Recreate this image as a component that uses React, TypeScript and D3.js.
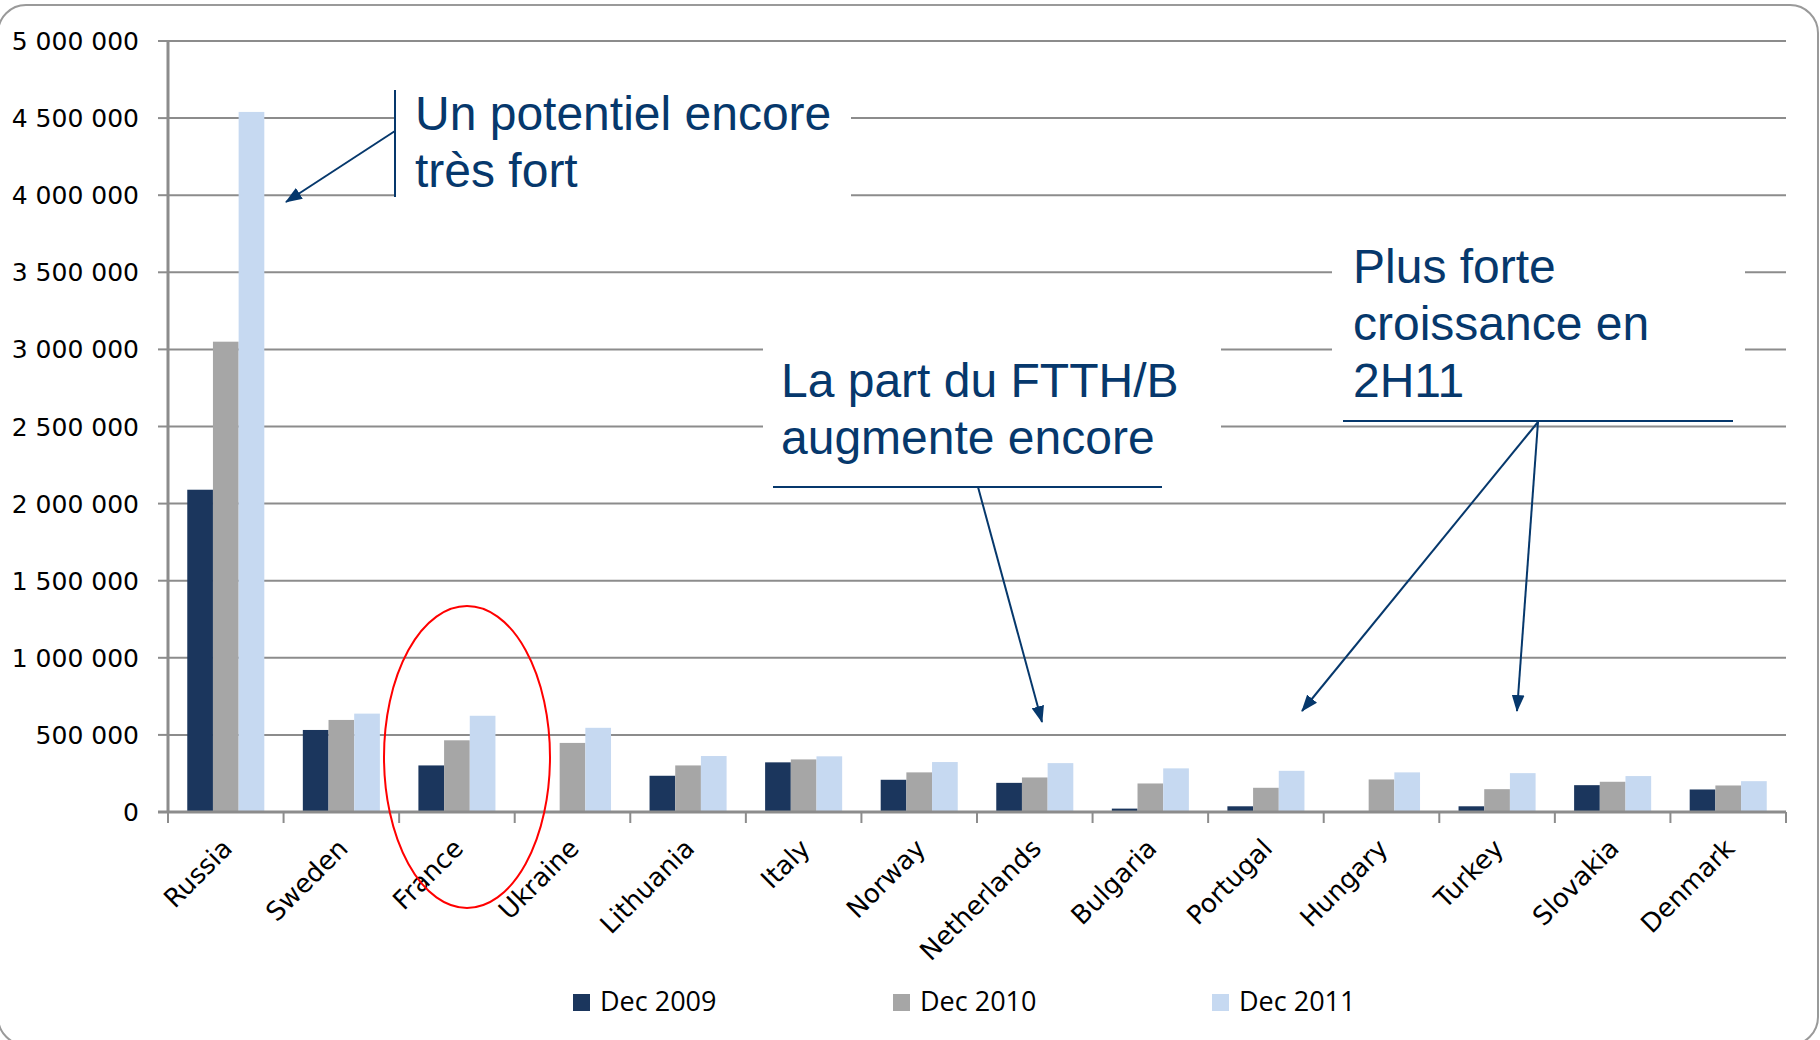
import React from "react";
import * as d3 from "d3";

const countries = ["Russia", "Sweden", "France", "Ukraine", "Lithuania", "Italy", "Norway", "Netherlands", "Bulgaria", "Portugal", "Hungary", "Turkey", "Slovakia", "Denmark"];
const dec2009 = [2090000, 532000, 302000, 0, 235000, 322000, 209000, 189000, 22000, 37000, 0, 37000, 174000, 146000];
const dec2010 = [3050000, 597000, 465000, 448000, 302000, 341000, 257000, 224000, 185000, 157000, 211000, 148000, 196000, 172000];
const dec2011 = [4540000, 638000, 624000, 546000, 363000, 361000, 324000, 317000, 283000, 267000, 257000, 252000, 233000, 200000];
const seriesNames = ["Dec 2009", "Dec 2010", "Dec 2011"];
const seriesColors = ["#1b365d", "#a6a6a6", "#c6d9f1"];
const yTicks = [0, 500000, 1000000, 1500000, 2000000, 2500000, 3000000, 3500000, 4000000, 4500000, 5000000];

const note1 = ["Un potentiel encore", "très fort"];
const note2 = ["La part du FTTH/B", "augmente encore"];
const note3 = ["Plus forte", "croissance en", "2H11"];

const W = 1820;
const H = 1040;
const L = 168;
const R = 1786;
const Y0 = 812;
const Y1 = 41;
const NAVY = "#06386c";
const GRID = "#8c8c8c";

const fmt = d3.formatLocale({ thousands: " ", grouping: [3], decimal: ",", currency: ["", ""] }).format(",");

export default function App() {
  const x = d3.scaleBand<string>().domain(countries).range([L, R]).padding(0);
  const inner = d3.scaleBand<string>().domain(seriesNames).range([0, x.bandwidth()]).paddingInner(0).paddingOuter(0.75);
  const y = d3.scaleLinear().domain([0, 5000000]).range([Y0, Y1]);
  const series = [dec2009, dec2010, dec2011];
  const tickXs = countries.map((c) => x(c) as number).concat([R]);

  const arrowLine = (x1: number, y1: number, x2: number, y2: number, key: string) => (
    <line key={key} x1={x1} y1={y1} x2={x2} y2={y2} stroke={NAVY} strokeWidth={2} markerEnd="url(#ah)" />
  );

  const noteFont = { fontFamily: "'Liberation Sans', Arial, sans-serif", fontSize: 48, fill: NAVY };

  return (
    <svg width={W} height={H} style={{ position: "absolute", left: 0, top: 0, background: "#fff" }}>
      <defs>
        <marker id="ah" viewBox="0 0 16 12" refX="15" refY="6" markerWidth="17" markerHeight="13" markerUnits="userSpaceOnUse" orient="auto">
          <path d="M0,0 L16,6 L0,12 z" fill={NAVY} />
        </marker>
      </defs>
      <rect x={0} y={0} width={W} height={H} fill="#fff" />
      <rect x={-2} y={5} width={1820} height={1040} rx={28} ry={28} fill="none" stroke="#9a9a9a" strokeWidth={2} />

      {/* gridlines */}
      {yTicks.filter((t) => t > 0).map((t) => (
        <line key={"g" + t} x1={L} x2={R} y1={y(t)} y2={y(t)} stroke={GRID} strokeWidth={2} />
      ))}

      {/* bars */}
      {countries.map((c, i) => (
        <g key={c}>
          {series.map((s, j) => (
            <rect key={j} x={(x(c) as number) + (inner(seriesNames[j]) as number)} y={y(s[i])} width={inner.bandwidth()} height={Y0 - y(s[i])} fill={seriesColors[j]} />
          ))}
        </g>
      ))}

      {/* annotation boxes */}
      <rect x={395} y={85} width={456} height={120} fill="#fff" />
      <rect x={763} y={335} width={458} height={145} fill="#fff" />
      <rect x={1332} y={235} width={413} height={185} fill="#fff" />

      {/* y axis */}
      <line x1={L} x2={L} y1={Y1} y2={Y0} stroke={GRID} strokeWidth={3} />
      {yTicks.map((t) => (
        <g key={"yt" + t}>
          <line x1={L - 10} x2={L} y1={y(t)} y2={y(t)} stroke={GRID} strokeWidth={2} />
          <text x={139} y={y(t)} dy="0.36em" textAnchor="end" fontFamily="'DejaVu Sans', sans-serif" fontSize={25} fill="#000">
            {fmt(t)}
          </text>
        </g>
      ))}

      {/* x axis */}
      <line x1={L - 10} x2={R} y1={Y0} y2={Y0} stroke={GRID} strokeWidth={3} />
      {tickXs.map((tx, i) => (
        <line key={"xt" + i} x1={tx} x2={tx} y1={Y0} y2={Y0 + 11} stroke={GRID} strokeWidth={2} />
      ))}
      {countries.map((c) => {
        const cx = (x(c) as number) + x.bandwidth() / 2 + 8;
        const cy = Y0 + 38;
        return (
          <text key={"xl" + c} x={cx} y={cy} textAnchor="end" transform={`rotate(-45 ${cx} ${cy})`} fontFamily="'DejaVu Sans', sans-serif" fontSize={26} fill="#000">
            {c}
          </text>
        );
      })}

      {/* note 1 */}
      <line x1={395} x2={395} y1={90} y2={197} stroke={NAVY} strokeWidth={2} />
      {arrowLine(395, 131, 286, 202, "a1")}
      {note1.map((t, i) => (
        <text key={"n1" + i} x={415} y={130 + i * 57} {...noteFont}>{t}</text>
      ))}

      {/* note 2 */}
      <line x1={773} x2={1162} y1={487} y2={487} stroke={NAVY} strokeWidth={2} />
      {arrowLine(978, 487, 1042, 722, "a2")}
      {note2.map((t, i) => (
        <text key={"n2" + i} x={781} y={397 + i * 57} {...noteFont}>{t}</text>
      ))}

      {/* note 3 */}
      <line x1={1343} x2={1733} y1={421} y2={421} stroke={NAVY} strokeWidth={2} />
      {arrowLine(1538, 422, 1302, 711, "a3")}
      {arrowLine(1538, 422, 1517, 711, "a4")}
      {note3.map((t, i) => (
        <text key={"n3" + i} x={1353} y={283 + i * 57} {...noteFont}>{t}</text>
      ))}

      {/* red ellipse */}
      <ellipse cx={467} cy={757} rx={83} ry={151} fill="none" stroke="#ff0000" strokeWidth={2} />

      {/* legend */}
      {seriesNames.map((s, i) => {
        const lx = [573, 893, 1212][i];
        return (
          <g key={"lg" + s}>
            <rect x={lx} y={994} width={17} height={17} fill={seriesColors[i]} />
            <text x={lx + 27} y={1011} fontFamily="'Open Sans', sans-serif" fontSize={27} fill="#000">{s}</text>
          </g>
        );
      })}
    </svg>
  );
}
